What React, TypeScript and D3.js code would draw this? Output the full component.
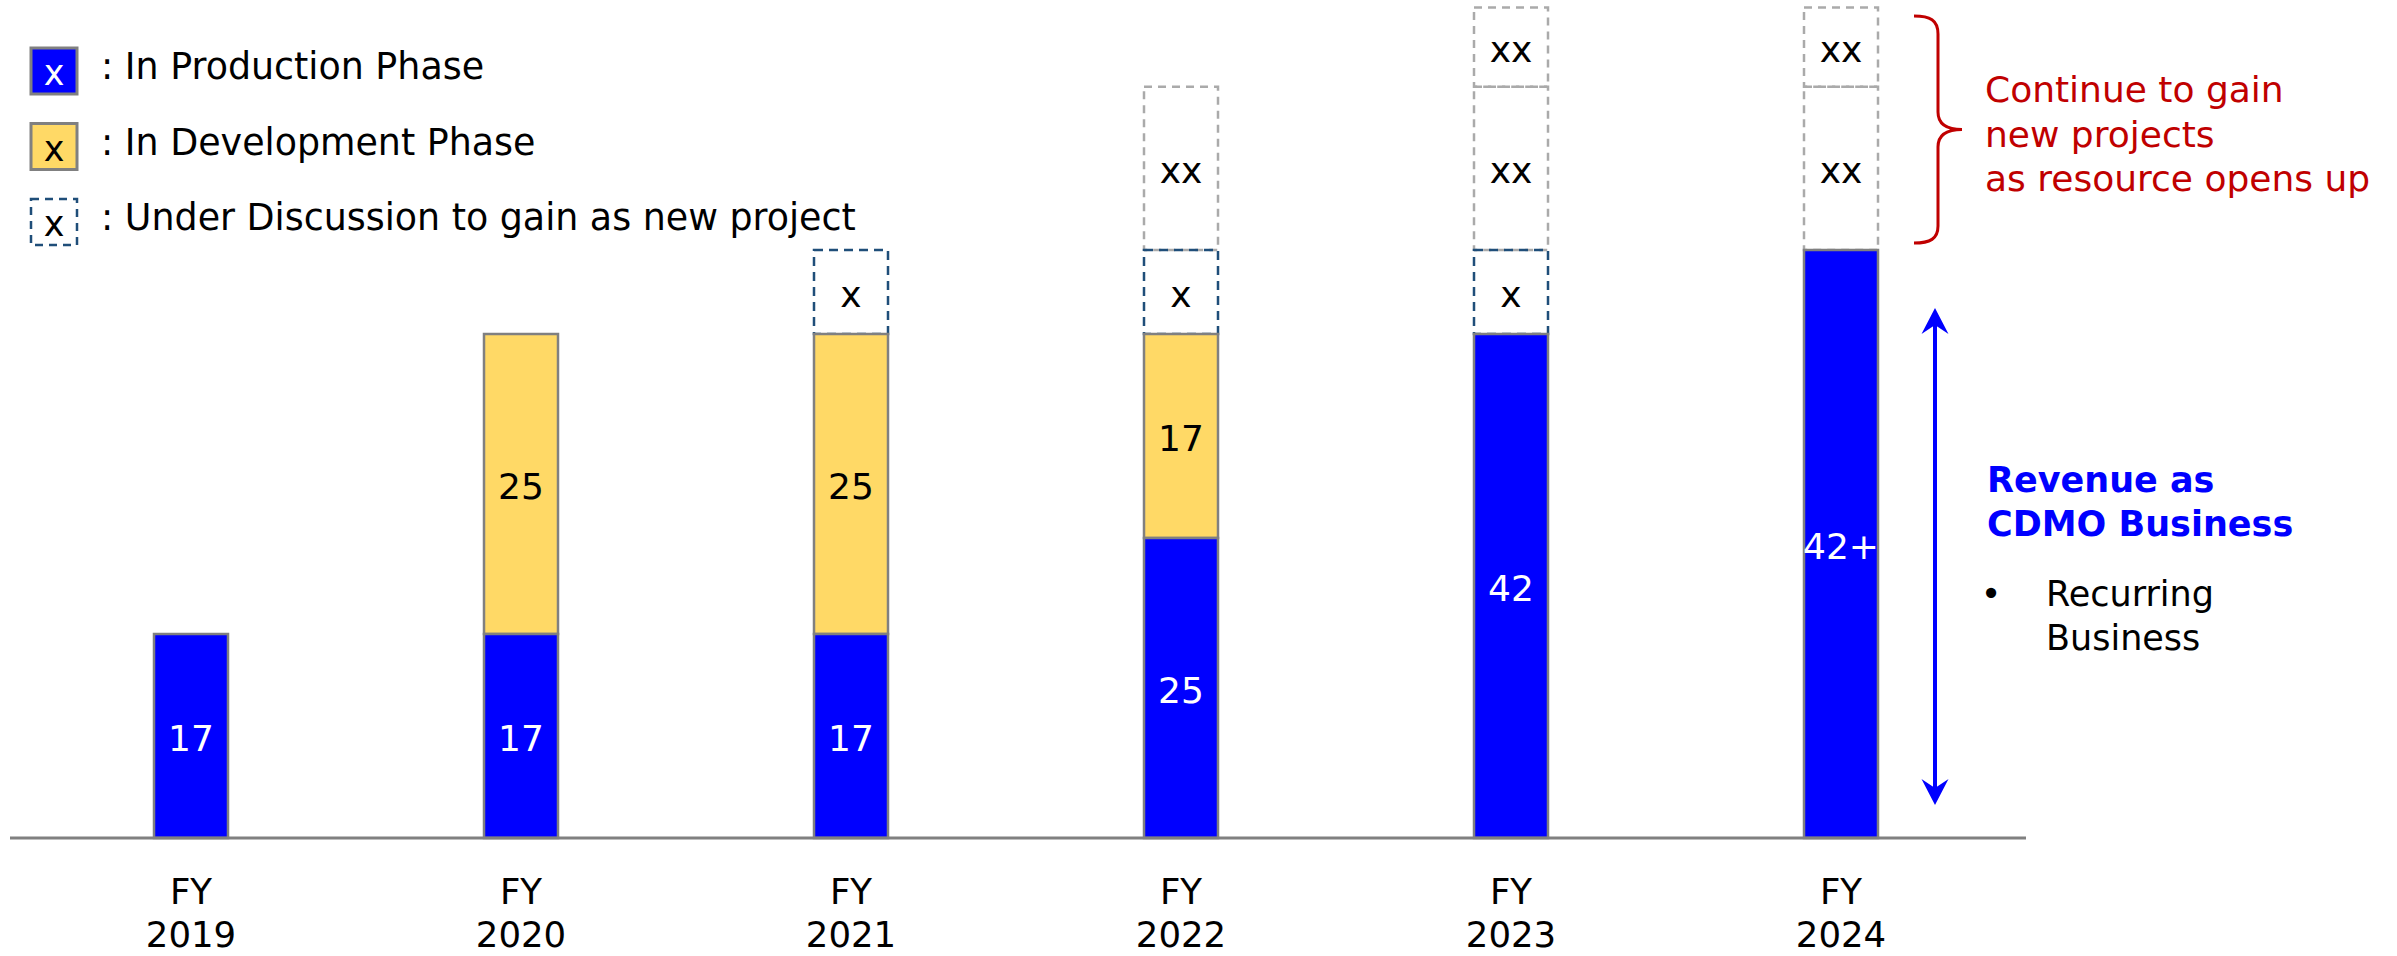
import React from "react";
import * as d3 from "d3";

const years = ["2019", "2020", "2021", "2022", "2023", "2024"];
const production = [17, 17, 17, 25, 42, 49];
const productionLabels = ["17", "17", "17", "25", "42", "42+"];
const development = [0, 25, 25, 17, 0, 0];
const developmentLabels = ["", "25", "25", "17", "", ""];
const discussion = [0, 0, 7, 7, 7, 0];
const discussionLabels = ["", "", "x", "x", "x", ""];
const gainA = [0, 0, 0, 13.6, 13.6, 13.6];
const gainB = [0, 0, 0, 0, 6.6, 6.6];
const gainLabels = ["", "", "", "xx", "xx", "xx"];

const legendItems = [
  { label: ": In Production Phase", kind: "prod" },
  { label: ": In Development Phase", kind: "dev" },
  { label: ": Under Discussion to gain as new project", kind: "disc" },
];

const W = 2397;
const H = 956;
const FONT = "'DejaVu Sans', Verdana, sans-serif";
const BLUE = "#0000ff";
const YELLOW = "#ffd966";
const GRAY = "#808080";
const DASH_BLUE = "#1f4e79";
const DASH_GRAY = "#aaaaaa";
const RED = "#c00000";

export default function App() {
  const x = d3.scaleBand<string>().domain(years).range([26, 2006]).padding(0);
  const y = d3.scaleLinear().domain([0, 10]).range([838, 718]);
  const barW = 74;
  const cx = (yr: string) => (x(yr) as number) + x.bandwidth() / 2;

  type Seg = { yr: string; y0: number; y1: number; kind: string; label: string };
  const segs: Seg[] = [];
  years.forEach((yr, i) => {
    let base = 0;
    const push = (v: number, kind: string, label: string) => {
      if (v > 0) {
        segs.push({ yr, y0: base, y1: base + v, kind, label });
        base += v;
      }
    };
    push(production[i], "prod", productionLabels[i]);
    push(development[i], "dev", developmentLabels[i]);
    push(discussion[i], "disc", discussionLabels[i]);
    push(gainA[i], "gain", gainLabels[i]);
    push(gainB[i], "gain", gainLabels[i]);
  });

  const style = (kind: string) => {
    if (kind === "prod") return { fill: BLUE, stroke: GRAY, strokeWidth: 2.5, dash: undefined, text: "#ffffff" };
    if (kind === "dev") return { fill: YELLOW, stroke: GRAY, strokeWidth: 2.5, dash: undefined, text: "#000000" };
    if (kind === "disc") return { fill: "none", stroke: DASH_BLUE, strokeWidth: 2.5, dash: "9 6", text: "#000000" };
    return { fill: "none", stroke: DASH_GRAY, strokeWidth: 2.5, dash: "8 6", text: "#000000" };
  };

  const order: Record<string, number> = { gain: 0, disc: 1, dev: 2, prod: 3 };
  const sorted = [...segs].sort((a, b) => order[a.kind] - order[b.kind]);

  const arrowX = 1935;
  const arrowTop = 308;
  const arrowBot = 805;
  const headPath = (tipY: number, dir: number) =>
    `M${arrowX},${tipY} L${arrowX + 13.5},${tipY + dir * 26} L${arrowX},${tipY + dir * 17} L${arrowX - 13.5},${tipY + dir * 26} Z`;

  const brace = "M1914,16 C1930,16 1938,20 1938,34 L1938,112 C1938,124 1946,129.5 1962,129.5 C1946,129.5 1938,135 1938,147 L1938,226 C1938,239 1930,243 1914,243";

  return (
    <div style={{ position: "absolute", left: 0, top: 0 }}>
      <svg width={W} height={H} style={{ display: "block" }} fontFamily={FONT}>
        <rect width={W} height={H} fill="#ffffff" />
        {legendItems.map((it, i) => {
          const top = 48 + i * 75.5;
          const s = style(it.kind);
          return (
            <g key={it.kind}>
              <rect x={31} y={top} width={46} height={46} fill={it.kind === "disc" ? "#ffffff" : s.fill}
                stroke={it.kind === "disc" ? DASH_BLUE : GRAY} strokeWidth={it.kind === "disc" ? 2.5 : 3}
                strokeDasharray={it.kind === "disc" ? "8 6" : undefined} />
              <text x={54} y={top + 37} textAnchor="middle" fontSize={35} fill={s.text}>x</text>
              <text x={101} y={top + 31} fontSize={36.4} fill="#000000">{it.label}</text>
            </g>
          );
        })}

        {sorted.map((s, i) => {
          const st = style(s.kind);
          const top = y(s.y1);
          const bot = y(s.y0);
          return (
            <rect key={"r" + i} x={cx(s.yr) - barW / 2} y={top} width={barW} height={bot - top}
              fill={st.fill} stroke={st.stroke} strokeWidth={st.strokeWidth} strokeDasharray={st.dash} />
          );
        })}
        {segs.map((s, i) => {
          const st = style(s.kind);
          const mid = (y(s.y1) + y(s.y0)) / 2;
          return s.label ? (
            <text key={"t" + i} x={cx(s.yr)} y={mid + 15} textAnchor="middle" fontSize={36} fill={st.text}>{s.label}</text>
          ) : null;
        })}

        <line x1={10} x2={2026} y1={y(0)} y2={y(0)} stroke={GRAY} strokeWidth={3} />

        {years.map((yr) => (
          <g key={"x" + yr}>
            <text x={cx(yr)} y={904} textAnchor="middle" fontSize={35.5} fill="#000000">FY</text>
            <text x={cx(yr)} y={947} textAnchor="middle" fontSize={35.5} fill="#000000">{yr}</text>
          </g>
        ))}

        <path d={brace} fill="none" stroke={RED} strokeWidth={3} />
        <text fontSize={36} fill={RED}>
          <tspan x={1985} y={102}>Continue to gain</tspan>
          <tspan x={1985} y={147}>new projects</tspan>
          <tspan x={1985} y={191}>as resource opens up</tspan>
        </text>

        <line x1={arrowX} x2={arrowX} y1={arrowTop + 15} y2={arrowBot - 15} stroke={BLUE} strokeWidth={4} />
        <path d={headPath(arrowTop, 1)} fill={BLUE} />
        <path d={headPath(arrowBot, -1)} fill={BLUE} />

        <text fontSize={35} fontWeight="bold" fill={BLUE}>
          <tspan x={1987} y={492}>Revenue as</tspan>
          <tspan x={1987} y={536}>CDMO Business</tspan>
        </text>
        <text x={1991} y={606} textAnchor="middle" fontSize={35} fill="#000000">•</text>
        <text fontSize={35} fill="#000000">
          <tspan x={2046} y={606}>Recurring</tspan>
          <tspan x={2046} y={650}>Business</tspan>
        </text>
      </svg>
    </div>
  );
}
